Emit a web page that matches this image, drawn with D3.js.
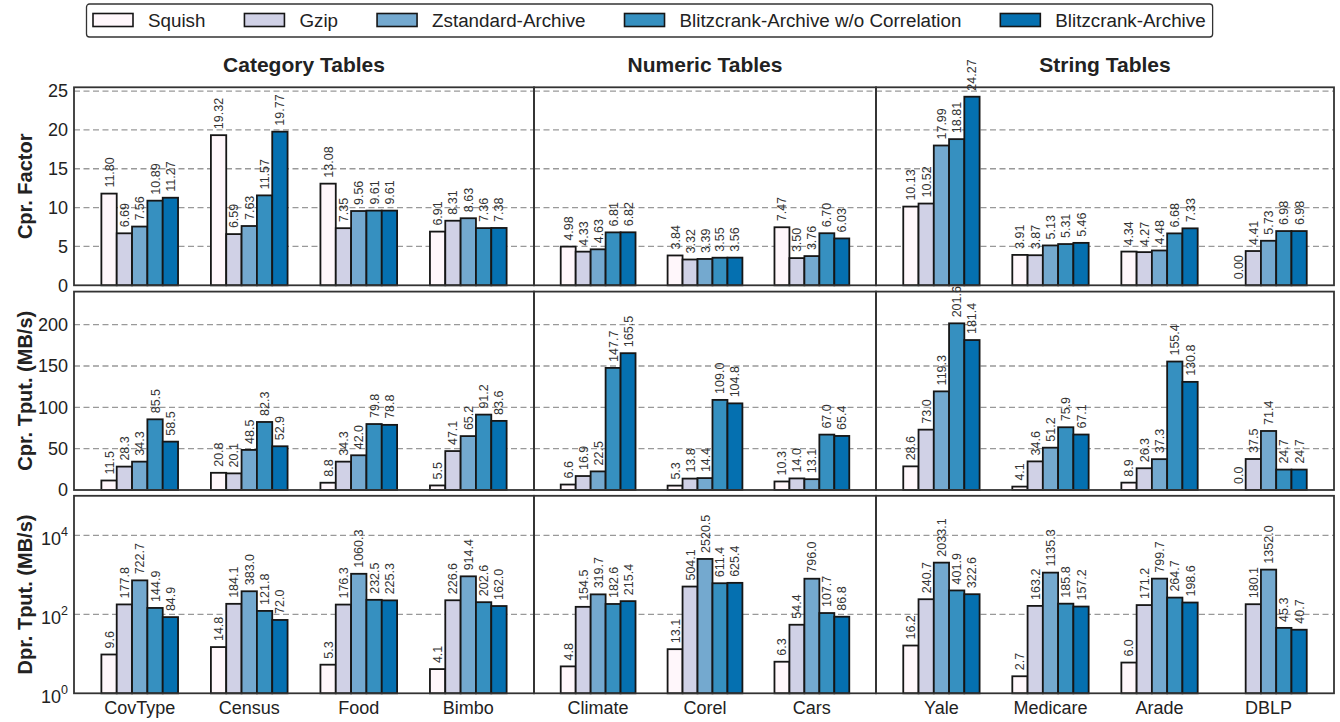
<!DOCTYPE html>
<html><head><meta charset="utf-8">
<script src="https://cdn.jsdelivr.net/npm/d3@7"></script>
<style>body{margin:0;background:#fff}svg{font-family:"Liberation Sans",Arial,sans-serif}</style>
</head><body><svg id="c" width="1340" height="722"></svg>
<script>
// ---------- DATA ----------
const series = ["Squish","Gzip","Zstandard-Archive","Blitzcrank-Archive w/o Correlation","Blitzcrank-Archive"];
const colors = ["#fff7fb","#d0d1e6","#74a9cf","#3690c0","#0570b0"];
const groupTitles = ["Category Tables","Numeric Tables","String Tables"];
const catCategory = ["CovType","Census","Food","Bimbo"];
const catNumeric = ["Climate","Corel","Cars"];
const catString = ["Yale","Medicare","Arade","DBLP"];
const rowTitles = ["Cpr. Factor","Cpr. Tput. (MB/s)","Dpr. Tput. (MB/s)"];
// Compression factor
const cprFactorCategory = [[11.80,6.69,7.56,10.89,11.27],[19.32,6.59,7.63,11.57,19.77],[13.08,7.35,9.56,9.61,9.61],[6.91,8.31,8.63,7.36,7.38]];
const cprFactorNumeric = [[4.98,4.33,4.63,6.81,6.82],[3.84,3.32,3.39,3.55,3.56],[7.47,3.50,3.76,6.70,6.03]];
const cprFactorString = [[10.13,10.52,17.99,18.81,24.27],[3.91,3.87,5.13,5.31,5.46],[4.34,4.27,4.48,6.68,7.33],[0.00,4.41,5.73,6.98,6.98]];
// Compression throughput
const cprTputCategory = [[11.5,28.3,34.3,85.5,58.5],[20.8,20.1,48.5,82.3,52.9],[8.8,34.3,42.0,79.8,78.8],[5.5,47.1,65.2,91.2,83.6]];
const cprTputNumeric = [[6.6,16.9,22.5,147.7,165.5],[5.3,13.8,14.4,109.0,104.8],[10.3,14.0,13.1,67.0,65.4]];
const cprTputString = [[28.6,73.0,119.3,201.6,181.4],[4.1,34.6,51.2,75.9,67.1],[8.9,26.3,37.3,155.4,130.8],[0.0,37.5,71.4,24.7,24.7]];
// Decompression throughput
const dprTputCategory = [[9.6,177.8,722.7,144.9,84.9],[14.8,184.1,383.0,121.8,72.0],[5.3,176.3,1060.3,232.5,225.3],[4.1,226.6,914.4,202.6,162.0]];
const dprTputNumeric = [[4.8,154.5,319.7,182.6,215.4],[13.1,504.1,2520.5,611.4,625.4],[6.3,54.4,796.0,107.7,86.8]];
const dprTputString = [[16.2,240.7,2033.1,401.9,322.6],[2.7,163.2,1135.3,185.8,157.2],[6.0,171.2,799.7,264.7,198.6],[0.0,180.1,1352.0,45.3,40.7]];
const ticksFactor = [0,5,10,15,20,25];
const ticksCpr = [0,50,100,150,200];
const ticksDpr = [1,100,10000];

// ---------- LAYOUT ----------
const svg = d3.select("#c");
const colX = [74,534,876,1334];
const rowY = [[87.3,285.3],[291.6,490],[495.8,693.3]];
const cats = [catCategory,catNumeric,catString];
const data = [
  [cprFactorCategory,cprFactorNumeric,cprFactorString],
  [cprTputCategory,cprTputNumeric,cprTputString],
  [dprTputCategory,dprTputNumeric,dprTputString]
];
const yScales = [
  d3.scaleLinear().domain([0,25.48]).range([rowY[0][1],rowY[0][0]]),
  d3.scaleLinear().domain([0,240]).range([rowY[1][1],rowY[1][0]]),
  d3.scaleLog().domain([1,1e5]).range([rowY[2][1],rowY[2][0]])
];
const rowTicks = [ticksFactor,ticksCpr,ticksDpr];
const fmts = [d3.format(".2f"),d3.format(".1f"),d3.format(".1f")];
const barW = 0.14;

const gridL = svg.append("g"), barL = svg.append("g"), frameL = svg.append("g"), textL = svg.append("g");

for (let r=0;r<3;r++){
  const y = yScales[r];
  for (let c=0;c<3;c++){
    const n = cats[c].length;
    const x = d3.scaleLinear().domain([-0.6,n-0.4]).range([colX[c],colX[c+1]]);
    rowTicks[r].forEach(t=>{
      const yy = y(t);
      if (yy > rowY[r][1]-1 || yy < rowY[r][0]+1) return;
      gridL.append("line").attr("x1",colX[c]).attr("x2",colX[c+1]).attr("y1",yy).attr("y2",yy)
        .attr("stroke","#999").attr("stroke-width",1.3).attr("stroke-dasharray","6,3.5");
    });
    data[r][c].forEach((vals,gi)=>{
      vals.forEach((v,si)=>{
        const x0 = x(gi + (si-2.5)*barW), x1 = x(gi + (si-1.5)*barW);
        const cx = (x0+x1)/2;
        if (r===2 && v<=0) return;
        const yTop = y(v);
        const yBase = rowY[r][1];
        if (yBase - yTop > 0.1) {
          barL.append("rect").attr("x",x0).attr("y",yTop).attr("width",x1-x0).attr("height",yBase-yTop)
            .attr("fill",colors[si]).attr("stroke","#161616").attr("stroke-width",1.8);
        }
        textL.append("text").attr("transform",`translate(${cx},${yTop-6}) rotate(-90)`)
          .attr("dy","0.36em").attr("font-size",12.5).attr("fill","#333").text(fmts[r](v));
      });
    });
    frameL.append("rect").attr("x",colX[c]).attr("y",rowY[r][0]).attr("width",colX[c+1]-colX[c])
      .attr("height",rowY[r][1]-rowY[r][0]).attr("fill","none").attr("stroke","#333").attr("stroke-width",1.8);
    if (r===2){
      cats[c].forEach((name,gi)=>{
        textL.append("text").attr("x",x(gi)).attr("y",714).attr("text-anchor","middle")
          .attr("font-size",18).attr("fill","#222").text(name);
      });
    }
    if (r===0){
      textL.append("text").attr("x",(colX[c]+colX[c+1])/2).attr("y",72).attr("text-anchor","middle")
        .attr("font-size",21).attr("font-weight","bold").attr("fill","#222").text(groupTitles[c]);
    }
  }
  rowTicks[r].forEach(t=>{
    const tx = textL.append("text").attr("x",68).attr("y",y(t)).attr("dy","0.35em").attr("text-anchor","end")
      .attr("font-size",18).attr("fill","#222");
    if (r===2){
      tx.attr("dy","0.55em");
      tx.append("tspan").text("10");
      tx.append("tspan").attr("font-size",12.5).attr("dy","-0.75em").text(String(Math.round(Math.log10(t))));
    } else tx.text(t);
  });
  textL.append("text").attr("transform",`translate(32,${(rowY[r][0]+rowY[r][1])/2}) rotate(-90)`)
    .attr("text-anchor","middle").attr("font-size",20).attr("font-weight","bold").attr("fill","#222").text(rowTitles[r]);
}

// ---------- LEGEND ----------
const leg = svg.append("g");
const box = leg.append("rect").attr("x",86.5).attr("y",4).attr("height",33).attr("rx",3)
  .attr("fill","#fff").attr("stroke","#333").attr("stroke-width",1.3);
let lx = 93;
series.forEach((s,i)=>{
  leg.append("rect").attr("x",lx).attr("y",13.5).attr("width",40).attr("height",13)
    .attr("fill",colors[i]).attr("stroke","#161616").attr("stroke-width",1.6);
  const t = leg.append("text").attr("x",lx+55).attr("y",20.5).attr("dy","0.35em").attr("font-size",18.8)
    .attr("fill","#222").text(s);
  const w = t.node().getComputedTextLength();
  lx = lx + 55 + w + 39;
});
box.attr("width", lx - 39 + 7 - 86.5);
</script></body></html>
